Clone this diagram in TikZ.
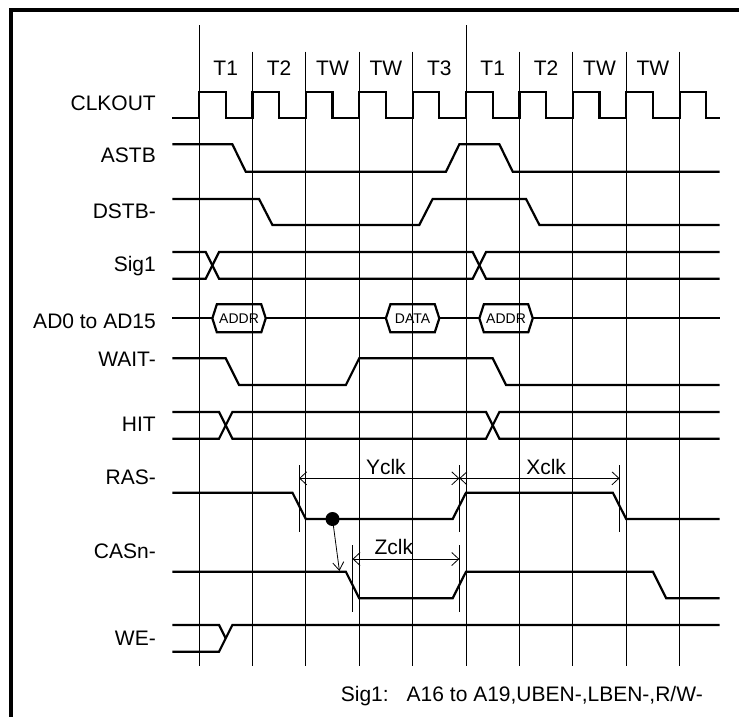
\documentclass[tikz,border=0pt]{standalone}
\usepackage{fontspec}
\setmainfont{Liberation Sans}
\usetikzlibrary{arrows.meta}
\begin{document}
\begin{tikzpicture}[x=1pt,y=-1pt,
  sig/.style={line width=2.2pt, line join=miter},
  gridln/.style={line width=0.8pt},
  lbl/.style={anchor=base east, font=\fontsize{21}{23}\selectfont, yshift=-7.5pt, inner sep=0pt},
  tlbl/.style={anchor=base, font=\fontsize{21}{23}\selectfont, yshift=-7.5pt, inner sep=0pt},
  hexlbl/.style={font=\fontsize{14}{16}\selectfont, inner sep=0pt},
  dimline/.style={line width=0.8pt, {Straight Barb[length=7pt,width=13pt]}-{Straight Barb[length=7pt,width=13pt]}},
  tickln/.style={line width=0.8pt},
  cause/.style={line width=0.8pt, -{Straight Barb[length=8pt,width=11pt]}}]
\useasboundingbox (0,0) rectangle (739,716);
\clip (0,0) rectangle (739,716);
\draw[line width=4pt, line join=miter] (10.9,760) -- (10.9,10.4) -- (760,10.4);
\begin{scope}[xshift=199pt, x=53.4pt]
  % grid lines
  \foreach \k in {1,2,3,4,6,7,8,9} \draw[gridln] (\k,51.7) -- (\k,665.7);
  \foreach \k in {0,5} \draw[gridln] (\k,25) -- (\k,665.7);
  % period labels
  \foreach \t [count=\i from 0] in {T1,T2,TW,TW,T3,T1,T2,TW,TW}
    \node[tlbl] (t\i) at (\i+0.5,68.3) {\t};
  % signal labels
  \node[lbl] (lclk) at (-0.805,103.3) {CLKOUT};
  \node[lbl] (lastb) at (-0.805,155) {ASTB};
  \node[lbl] (ldstb) at (-0.805,211) {DSTB-};
  \node[lbl] (lsig) at (-0.805,264) {Sig1};
  \node[lbl] (lad) at (-0.805,321) {AD0 to AD15};
  \node[lbl] (lwait) at (-0.805,359) {WAIT-};
  \node[lbl] (lhit) at (-0.805,424) {HIT};
  \node[lbl] (lras) at (-0.805,477) {RAS-};
  \node[lbl] (lcas) at (-0.805,551) {CASn-};
  \node[lbl] (lwe) at (-0.805,638) {WE-};
  % CLKOUT
  \draw[sig] (-0.5,117.7) \foreach \k in {0,...,9} { -- (\k,117.7) -- (\k,91.7) -- (\k+0.5,91.7) -- (\k+0.5,117.7) } -- (9.75,117.7);
  % ASTB
  \draw[sig] (-0.5,144.3) -- (0.625,144.3) -- (0.875,171.7) -- (4.625,171.7) -- (4.875,144.3) -- (5.625,144.3) -- (5.875,171.7) -- (9.75,171.7);
  % DSTB-
  \draw[sig] (-0.5,199) -- (1.125,199) -- (1.375,225) -- (4.125,225) -- (4.375,199) -- (6.125,199) -- (6.375,225) -- (9.75,225);
  % Sig1
  \draw[sig] (-0.5,252) -- (0.125,252) -- (0.375,278.7) -- (5.125,278.7) -- (5.375,252) -- (9.75,252);
  \draw[sig] (-0.5,278.7) -- (0.125,278.7) -- (0.375,252) -- (5.125,252) -- (5.375,278.7) -- (9.75,278.7);
  % AD0 to AD15
  \draw[sig] (-0.5,318.3) -- (0.25,318.3);
  \draw[sig] (0.25,318.3) -- (0.334,304.3) -- (1.166,304.3) -- (1.25,318.3) -- (1.166,332.3) -- (0.334,332.3) -- cycle;
  \draw[sig] (1.25,318.3) -- (3.5,318.3);
  \draw[sig] (3.5,318.3) -- (3.584,304.3) -- (4.416,304.3) -- (4.5,318.3) -- (4.416,332.3) -- (3.584,332.3) -- cycle;
  \draw[sig] (4.5,318.3) -- (5.25,318.3);
  \draw[sig] (5.25,318.3) -- (5.334,304.3) -- (6.166,304.3) -- (6.25,318.3) -- (6.166,332.3) -- (5.334,332.3) -- cycle;
  \draw[sig] (6.25,318.3) -- (9.75,318.3);
  \node[hexlbl] (addr1) at (0.75,318.3) {ADDR};
  \node[hexlbl] (data) at (4,318.3) {DATA};
  \node[hexlbl] (addr2) at (5.75,318.3) {ADDR};
  % WAIT-
  \draw[sig] (-0.5,358.3) -- (0.5,358.3) -- (0.75,385) -- (2.75,385) -- (3,358.3) -- (5.5,358.3) -- (5.75,385) -- (9.75,385);
  % HIT
  \draw[sig] (-0.5,412) -- (0.375,412) -- (0.625,438.7) -- (5.375,438.7) -- (5.625,412) -- (9.75,412);
  \draw[sig] (-0.5,438.7) -- (0.375,438.7) -- (0.625,412) -- (5.375,412) -- (5.625,438.7) -- (9.75,438.7);
  % RAS-
  \draw[sig] (-0.5,492.7) -- (1.75,492.7) -- (2,519) -- (4.75,519) -- (5,492.7) -- (7.75,492.7) -- (8,519) -- (9.75,519);
  % CASn-
  \draw[sig] (-0.5,571.7) -- (2.75,571.7) -- (3,598.3) -- (4.75,598.3) -- (5,571.7) -- (8.5,571.7) -- (8.75,598.3) -- (9.75,598.3);
  % WE-
  \draw[sig] (-0.5,625) -- (0.375,625) -- (0.5,638.35);
  \draw[sig] (-0.5,651.7) -- (0.375,651.7) -- (0.625,625) -- (9.75,625);
  % dimension ticks
  \foreach \k in {1.875,4.875,7.875} \draw[tickln] (\k,465) -- (\k,531.7);
  \foreach \k in {2.875,4.875} \draw[tickln] (\k,545) -- (\k,612);
  \coordinate (ya) at (1.875,478.3);
  \coordinate (yb) at (4.875,478.3);
  \coordinate (xb) at (7.875,478.3);
  \coordinate (za) at (2.875,559);
  \coordinate (zb) at (4.875,559);
  \draw[dimline] (ya) -- (yb);
  \draw[dimline] (yb) -- (xb);
  \draw[dimline] (za) -- (zb);
  \node[tlbl] (yclk) at (3.5,467) {Yclk};
  \node[tlbl] (xclk) at (6.5,467) {Xclk};
  \node[tlbl] (zclk) at (3.65,547) {Zclk};
  % cause arrow
  \node[circle, fill, inner sep=0pt, minimum size=14pt] (dot) at (2.5,519) {};
  \coordinate (casfall) at (2.63,571);
  \draw[cause] (dot.center) -- (casfall);
  % note
  \node[lbl] (note) at (9.438,694) {Sig1:\hspace{18pt}A16 to A19,UBEN-,LBEN-,R/W-};
\end{scope}
\end{tikzpicture}
\end{document}
